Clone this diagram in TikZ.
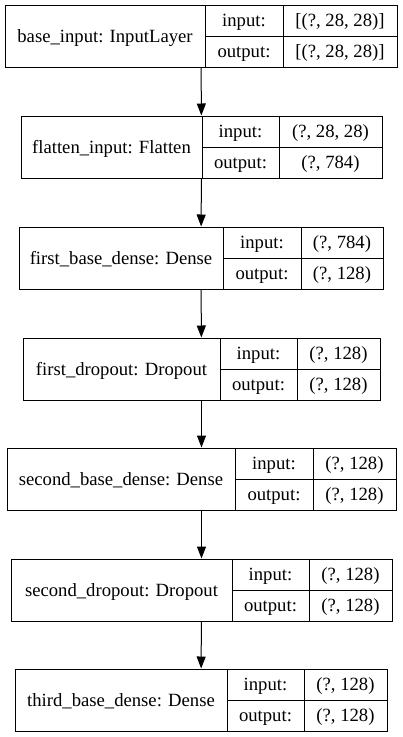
\documentclass[tikz,border=0pt]{standalone}
\usepackage{fontspec}
\setmainfont{Liberation Serif}
\usetikzlibrary{arrows.meta}

% one record: name, top, left, div1, div2, right, label, input, output
\newcommand{\layerrec}[9]{%
  \node[recbox, minimum width={#6-#3}, minimum height=62] (#1) at ({(#3+#6)/2},{#2+31}) {};
  \node[cell, minimum width={#4-#3}, minimum height=62] (#1-lbl) at ({(#3+#4)/2},{#2+31}) {#7};
  \node[cell, minimum width={#5-#4}] (#1-in) at ({(#4+#5)/2},{#2+15.5}) {input:};
  \node[cell, minimum width={#5-#4}] (#1-out) at ({(#4+#5)/2},{#2+46.5}) {output:};
  \node[cell, minimum width={#6-#5}] (#1-inv) at ({(#5+#6)/2},{#2+15.5}) {#8};
  \node[cell, minimum width={#6-#5}] (#1-outv) at ({(#5+#6)/2},{#2+46.5}) {#9};
}

\begin{document}
\begin{tikzpicture}[x=1pt, y=-1pt,
  every node/.style={font=\fontsize{18.67}{22}\selectfont},
  recbox/.style={draw, line width=1pt, inner sep=0pt},
  cell/.style={draw, line width=1pt, inner sep=0pt, minimum height=31,
    text height=15, text depth=3},
  flow/.style={line width=1pt, -{Triangle[length=12pt, width=9pt]}}]
  \useasboundingbox (0,0) rectangle (403,737);
  % Layers
  \layerrec{base}{5}{5}{205}{283}{397}{base\_input: InputLayer}{[(?, 28, 28)]}{[(?, 28, 28)]}
  \layerrec{flat}{116}{21}{202}{279}{382}{flatten\_input: Flatten}{(?, 28, 28)}{(?, 784)}
  \layerrec{dense1}{227}{19}{223}{301}{383}{first\_base\_dense: Dense}{(?, 784)}{(?, 128)}
  \layerrec{drop1}{338}{23}{220}{297}{380}{first\_dropout: Dropout}{(?, 128)}{(?, 128)}
  \layerrec{dense2}{448}{7}{235}{313}{396}{second\_base\_dense: Dense}{(?, 128)}{(?, 128)}
  \layerrec{drop2}{559}{11}{232}{309}{392}{second\_dropout: Dropout}{(?, 128)}{(?, 128)}
  \layerrec{dense3}{669}{15}{227}{304}{387}{third\_base\_dense: Dense}{(?, 128)}{(?, 128)}
  % Edges
  \foreach \a/\b in {base/flat, flat/dense1, dense1/drop1, drop1/dense2, dense2/drop2, drop2/dense3}
    \draw[flow] (\a) -- (\b);
\end{tikzpicture}
\end{document}
